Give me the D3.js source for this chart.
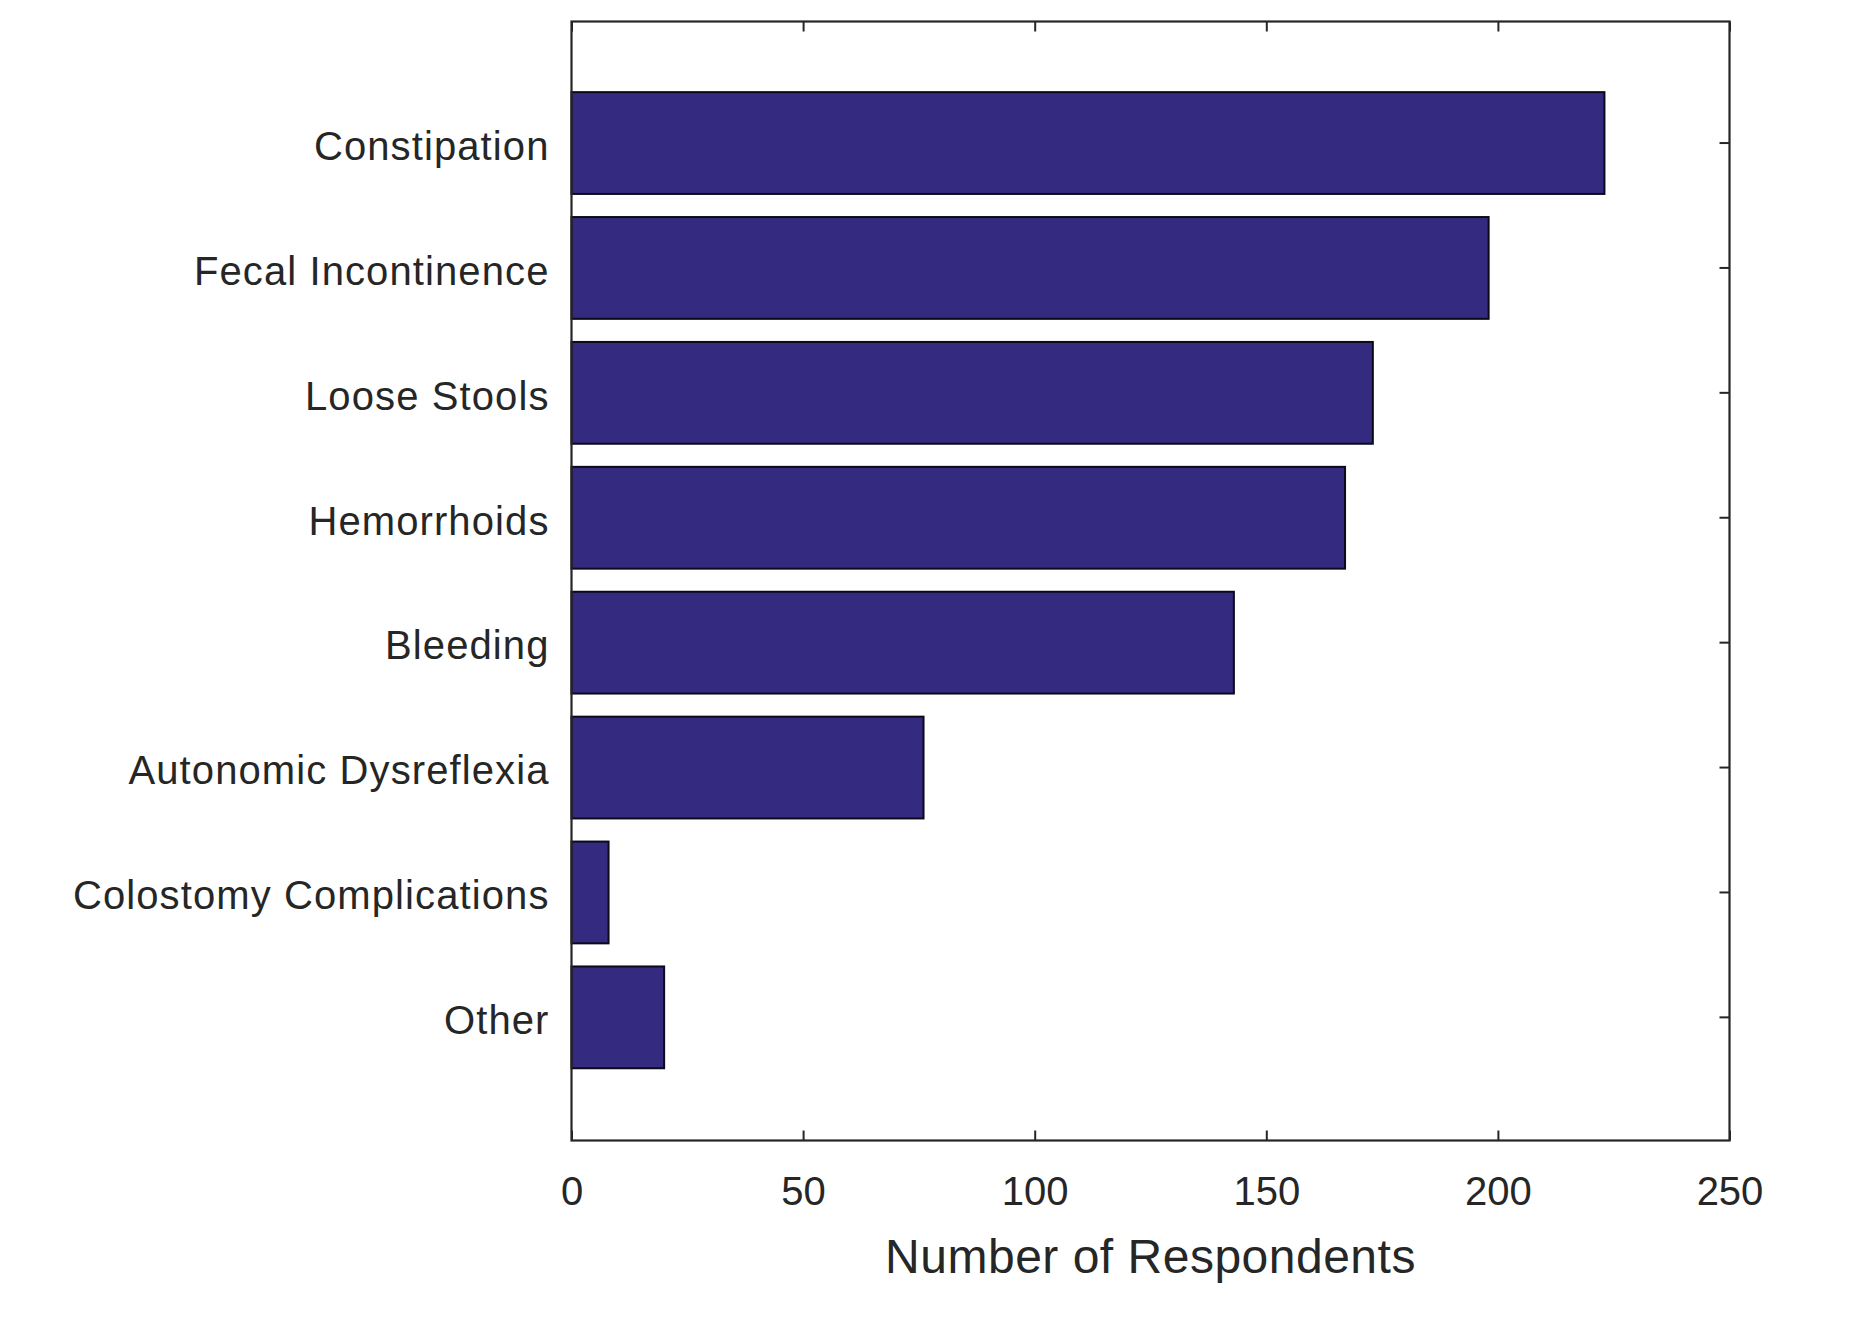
<!DOCTYPE html>
<html>
<head>
<meta charset="utf-8">
<script src="https://cdn.jsdelivr.net/npm/d3@7"></script>
<style>
  html, body { margin: 0; padding: 0; background: #fff; }
  svg { display: block; }
  text { font-family: "Liberation Sans", Arial, Helvetica, sans-serif; fill: #262626; }
</style>
</head>
<body>
<svg id="chart" width="1860" height="1322"></svg>
<script>
const categories = ["Constipation", "Fecal Incontinence", "Loose Stools", "Hemorrhoids",
                    "Bleeding", "Autonomic Dysreflexia", "Colostomy Complications", "Other"];
const values = [223, 198, 173, 167, 143, 76, 8, 20];
const xTicks = [0, 50, 100, 150, 200, 250];
const xTitle = "Number of Respondents";

const plotL = 571.5, plotR = 1729.5, plotT = 21.5, plotB = 1140.5;

const svg = d3.select("#chart");

const x = d3.scaleLinear().domain([0, 250]).range([plotL, plotR]);
const y = d3.scaleBand().domain(categories).range([plotT - 4.3, plotB + 2.7])
  .paddingInner(0.185).paddingOuter(0.6);

// bars
svg.append("g").selectAll("rect").data(values).join("rect")
  .attr("x", x(0))
  .attr("y", (d, i) => y(categories[i]))
  .attr("width", d => x(d) - x(0))
  .attr("height", y.bandwidth())
  .attr("fill", "#342a80")
  .attr("stroke", "#0a0a1a")
  .attr("stroke-width", 2);

const axisColor = "#262626";

// bottom axis (ticks inward)
const gx = svg.append("g").attr("transform", `translate(0,${plotB})`)
  .call(d3.axisBottom(x).tickValues(xTicks).tickSize(-10).tickPadding(0).tickFormat(d3.format("d")));
gx.select(".domain").remove();
gx.selectAll(".tick line").attr("stroke", axisColor).attr("stroke-width", 2);
gx.selectAll(".tick text").attr("y", 64).attr("dy", null)
  .style("font-size", "40px").attr("fill", "#262626");

// top axis ticks (inward)
const gt = svg.append("g").attr("transform", `translate(0,${plotT})`)
  .call(d3.axisTop(x).tickValues(xTicks).tickSize(-10).tickFormat(""));
gt.select(".domain").remove();
gt.selectAll(".tick line").attr("stroke", axisColor).attr("stroke-width", 2);

// right axis ticks (inward)
const gr = svg.append("g").attr("transform", `translate(${plotR},0)`)
  .call(d3.axisRight(y).tickSize(-10).tickFormat(""));
gr.select(".domain").remove();
gr.selectAll(".tick line").attr("stroke", axisColor).attr("stroke-width", 2);

// left axis labels
const gl = svg.append("g").attr("transform", `translate(${plotL},0)`)
  .call(d3.axisLeft(y).tickSize(0).tickPadding(22));
gl.select(".domain").remove();
gl.selectAll(".tick text").attr("dy", "0.42em")
  .style("font-size", "40px").style("letter-spacing", "1.1px");

// frame
svg.append("rect")
  .attr("x", plotL).attr("y", plotT)
  .attr("width", plotR - plotL).attr("height", plotB - plotT)
  .attr("fill", "none").attr("stroke", axisColor).attr("stroke-width", 2.2);

// x title
svg.append("text")
  .attr("x", (plotL + plotR) / 2)
  .attr("y", 1273)
  .attr("text-anchor", "middle")
  .style("font-size", "48px")
  .style("letter-spacing", "0.5px")
  .text(xTitle);
</script>
</body>
</html>
